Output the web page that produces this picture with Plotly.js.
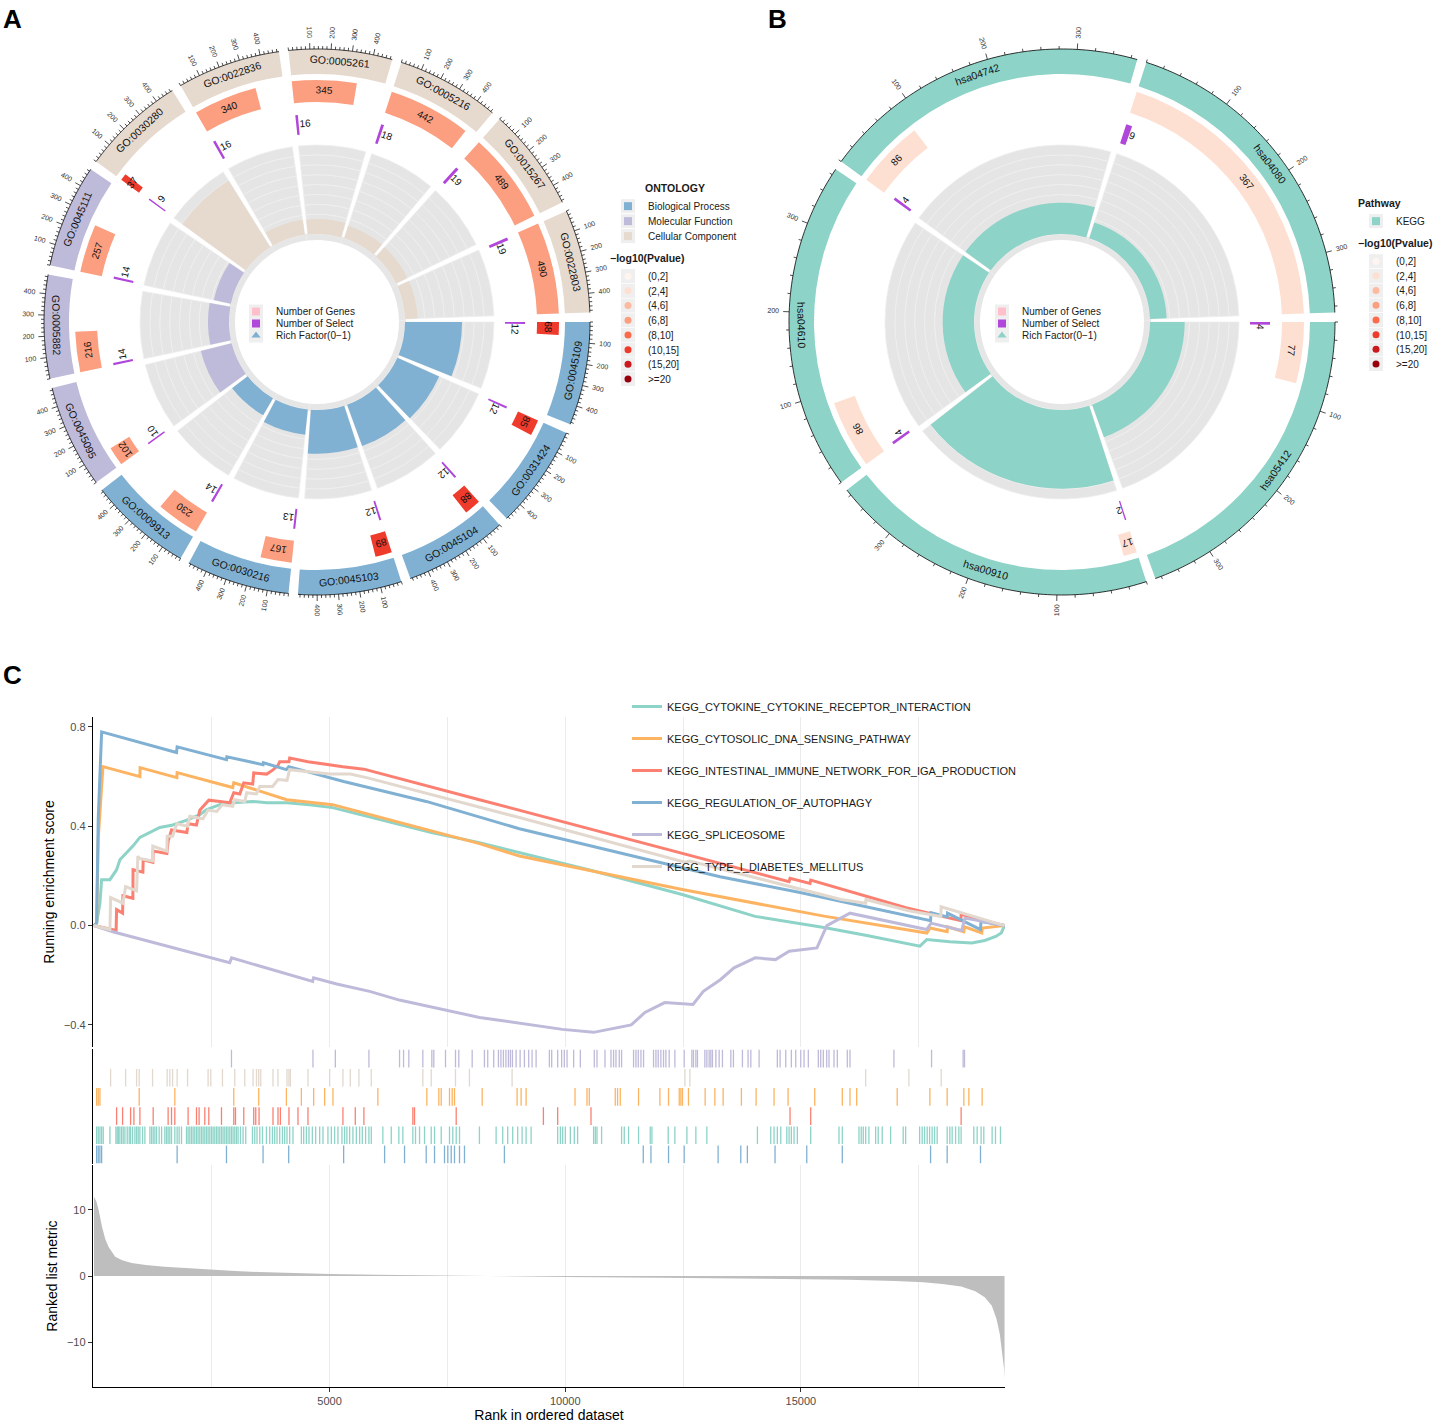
<!DOCTYPE html>
<html>
<head>
<meta charset="utf-8">
<script src="https://cdn.plot.ly/plotly-3.0.1.min.js"></script>
<style>html,body{margin:0;padding:0;background:#fff}#chart{width:1441px;height:1424px}</style>
</head>
<body>
<div id="chart"></div>
<script>
// ================= DATA =================
// Panel A : GO terms (clockwise from 3 o'clock)
const goTerms = ['GO:0045109','GO:0031424','GO:0045104','GO:0045103','GO:0030216','GO:0009913','GO:0045095','GO:0005882','GO:0045111','GO:0030280','GO:0022836','GO:0005261','GO:0005216','GO:0015267','GO:0022803'];
const goOntology = ['BP','BP','BP','BP','BP','BP','MF','MF','MF','CC','CC','CC','CC','CC','CC'];
const goGenes = [68,85,88,89,167,230,102,216,257,37,340,345,442,489,490];
const goSelect = [12,12,12,12,13,14,10,14,14,9,16,16,18,19,19];
const goRichFactor = [0.176,0.141,0.136,0.135,0.078,0.061,0.098,0.065,0.054,0.243,0.047,0.046,0.041,0.039,0.039];
const goPvalueBin = ['(10,15]','(10,15]','(10,15]','(10,15]','(6,8]','(6,8]','(6,8]','(6,8]','(6,8]','(10,15]','(6,8]','(6,8]','(6,8]','(6,8]','(6,8]'];
const ontologyKeys = ['BP','MF','CC'];
const ontologyNames = ['Biological Process','Molecular Function','Cellular Component'];

// Panel B : KEGG pathways
const keggTerms = ['hsa05412','hsa00910','hsa04610','hsa04742','hsa04080'];
const keggGenes = [77,17,86,86,367];
const keggSelect = [4,2,4,4,9];
const keggRichFactor = [0.052,0.118,0.047,0.047,0.025];
const keggPvalueBin = ['(2,4]','(2,4]','(2,4]','(2,4]','(2,4]'];

// -log10(Pvalue) bins
const pBins = ['(0,2]','(2,4]','(4,6]','(6,8]','(8,10]','(10,15]','(15,20]','>=20'];
const pColors = ['#FFF5F0','#FEE0D2','#FCBBA1','#FC9F80','#FB6A4A','#EF3B2C','#CB181D','#99000D'];
const centerKeys = ['Number of Genes','Number of Select','Rich Factor(0\u22121)'];

// Panel C : GSEA running enrichment scores  [rank, ES]
const setNames = ['KEGG_CYTOKINE_CYTOKINE_RECEPTOR_INTERACTION','KEGG_CYTOSOLIC_DNA_SENSING_PATHWAY','KEGG_INTESTINAL_IMMUNE_NETWORK_FOR_IGA_PRODUCTION','KEGG_REGULATION_OF_AUTOPHAGY','KEGG_SPLICEOSOME','KEGG_TYPE_I_DIABETES_MELLITUS'];
const esCytokine = [[0,0],[57,0.01],[127,0.09],[163,0.185],[339,0.185],[481,0.225],[551,0.265],[657,0.285],[826,0.32],[975,0.355],[1187,0.375],[1399,0.395],[1674,0.405],[1971,0.425],[2246,0.447],[2394,0.467],[2670,0.487],[2945,0.495],[3369,0.50],[3666,0.495],[4090,0.495],[4577,0.487],[5064,0.475],[5785,0.44],[7183,0.374],[8179,0.334],[9027,0.294],[10600,0.22],[12481,0.125],[14028,0.037],[15490,-0.008],[16400,-0.04],[17524,-0.083],[17672,-0.056],[18160,-0.065],[18626,-0.07],[18900,-0.06],[19134,-0.044],[19250,-0.03],[19320,0]];
const esCytosolic = [[0,0],[57,0.01],[91,0.35],[127,0.47],[163,0.6],[191,0.64],[975,0.60],[980,0.636],[1759,0.596],[1765,0.616],[2945,0.556],[2967,0.575],[4090,0.507],[5064,0.487],[8179,0.33],[9027,0.28],[12481,0.145],[15490,0.038],[17672,-0.03],[17736,-0.01],[18103,-0.025],[18110,-0.005],[18457,-0.025],[18470,-0.005],[18838,-0.03],[18850,-0.01],[19320,0]];
const esIntestinal = [[0,0],[470,-0.02],[481,0.064],[608,0.05],[615,0.12],[826,0.11],[830,0.225],[1038,0.215],[1045,0.265],[1250,0.255],[1257,0.3],[1547,0.29],[1574,0.34],[1646,0.385],[1971,0.375],[1998,0.41],[2176,0.405],[2246,0.465],[2437,0.505],[2882,0.495],[2967,0.535],[3094,0.53],[3179,0.575],[3369,0.57],[3390,0.615],[3666,0.61],[3799,0.627],[3905,0.645],[3941,0.66],[4138,0.66],[4153,0.675],[4541,0.66],[5283,0.64],[5545,0.635],[5728,0.63],[8179,0.507],[10595,0.386],[14748,0.177],[14769,0.19],[15193,0.17],[15208,0.183],[17228,0.072],[18393,0.02],[18399,0.045],[19320,0]];
const esAutophagy = [[0,0],[57,0.01],[91,0.43],[127,0.6],[163,0.78],[1752,0.697],[1765,0.72],[2812,0.668],[2820,0.68],[3588,0.648],[3595,0.656],[4083,0.628],[4132,0.64],[5298,0.58],[6167,0.54],[7050,0.50],[7862,0.455],[8179,0.438],[9027,0.39],[11655,0.27],[13286,0.197],[14981,0.133],[17312,0.036],[17751,0.02],[17760,0.052],[18103,0.035],[18110,0.05],[18810,-0.016],[18820,0.016],[19320,0]];
const esSpliceosome = [[0,0],[400,-0.025],[2880,-0.15],[2920,-0.13],[4640,-0.225],[4660,-0.21],[5150,-0.235],[5850,-0.265],[6480,-0.30],[8180,-0.37],[9940,-0.418],[10600,-0.43],[11400,-0.40],[11690,-0.35],[12110,-0.31],[12710,-0.318],[12930,-0.265],[13290,-0.218],[13580,-0.17],[14030,-0.13],[14460,-0.137],[14750,-0.103],[15340,-0.09],[15550,0.0],[16040,0.05],[17670,-0.016],[17760,0.01],[18410,-0.02],[18480,0.03],[19320,0]];
const esDiabetes = [[0,0],[339,-0.016],[354,0.113],[615,0.09],[672,0.157],[905,0.14],[932,0.28],[960,0.27],[1244,0.26],[1250,0.32],[1547,0.30],[1553,0.36],[1668,0.36],[1759,0.41],[1986,0.40],[2034,0.44],[2310,0.43],[2422,0.465],[2606,0.46],[2727,0.487],[2945,0.48],[2988,0.507],[3200,0.50],[3242,0.535],[3448,0.53],[3518,0.56],[3793,0.56],[3905,0.588],[4096,0.585],[4153,0.628],[5001,0.61],[5439,0.61],[5785,0.596],[8179,0.477],[9027,0.435],[12538,0.255],[12644,0.26],[15850,0.105],[16374,0.09],[16380,0.105],[17291,0.06],[17969,0.037],[17976,0.076],[19320,0]];

// Panel C : gene-set hit positions (rank)
const hitsCytokine = [57,91,127,163,197,339,466,494,523,551,587,621,657,706,748,778,820,869,905,939,975,1032,1081,1187,1223,1257,1293,1329,1384,1435,1504,1541,1574,1610,1646,1716,1765,1808,1858,1964,1998,2034,2070,2104,2140,2176,2210,2246,2282,2316,2352,2388,2422,2458,2494,2528,2564,2600,2634,2670,2706,2740,2776,2812,2846,2882,2918,2952,2988,3024,3058,3109,3164,3221,3363,3412,3460,3518,3575,3660,3729,3787,3835,3884,3941,3999,4047,4096,4153,4223,4401,4450,4507,4562,4634,4704,4789,4859,4965,5037,5107,5177,5262,5319,5367,5425,5495,5567,5637,5694,5764,5834,5884,6130,6308,6469,6554,6766,6823,6908,7014,7156,7226,7368,7544,7614,7686,7756,8179,8533,8673,8779,8885,8991,9084,9169,9275,9839,9896,9945,10002,10108,10192,10262,10601,10637,10673,10771,11195,11252,11343,11555,11803,11839,12184,12326,12581,12771,13004,14077,14360,14430,14500,14572,14700,14749,14797,14854,14924,15208,15808,15878,16232,16280,16323,16374,16443,16585,16640,16725,16903,17170,17222,17518,17573,17624,17679,17730,17784,17836,17891,18103,18160,18209,18281,18351,18399,18668,18739,18823,18880,19057,19128,19234];
const hitsCytosolic = [57,91,127,960,1716,2967,3496,4083,4401,4662,4895,5071,6024,7063,7317,7368,7544,7601,7650,8237,8978,9063,9169,10207,10461,10510,11061,11110,11167,11555,12008,12191,12418,12453,12487,12614,12968,13174,13350,13737,14049,14430,14727,15293,15878,16041,16183,17043,17736,18103,18457,18563,18845];
const hitsIntestinal = [481,608,778,848,975,1257,1574,1646,1716,1998,2176,2231,2352,2437,2706,2967,3003,3179,3390,3433,3503,3799,3905,3956,4138,4329,4541,5283,5545,5728,6766,6802,7686,9536,9839,10546,14769,15208,18399];
const hitsAutophagy = [57,91,127,163,1765,2812,3588,4132,5298,6167,6590,7050,7226,7438,7508,7580,7650,7756,7862,8709,11655,11818,12191,12523,13243,13724,13864,14451,15124,15878,17751,18103,18810];
const hitsSpliceosome = [2918,4647,5122,5834,6484,6569,6681,6978,7169,7211,7459,7671,7741,8025,8285,8355,8482,8582,8635,8688,8741,8794,8836,8879,8957,9042,9133,9224,9296,9381,9663,9712,9839,9923,9980,10038,10178,10320,10616,10673,10843,10970,11025,11076,11146,11195,11449,11500,11549,11606,11661,11873,11924,11972,12029,12085,12135,12205,12326,12523,12686,12720,12771,12805,12962,13004,13053,13089,13123,13195,13265,13335,13513,13568,13759,13879,13937,14113,14500,14558,14678,14797,14890,14996,15066,15157,15369,15420,15475,15547,15596,15702,15772,15984,16041,16973,17772,18442,18471];
const hitsDiabetes = [354,672,905,960,1244,1553,1610,1668,1765,1986,2422,2479,2727,2988,3200,3376,3448,3496,3539,3799,3905,4096,4138,4168,4541,5001,5283,5439,5622,5884,6978,7156,7671,7967,8872,12538,12644,16374,17291,17976];

// Panel C : ranked list metric  [rank, value]
const rankedMetric = [[1,12.0],[50,11.3],[100,10.0],[170,7.5],[240,5.6],[311,4.4],[451,2.9],[600,2.4],[800,1.95],[1100,1.65],[1500,1.4],[2000,1.15],[2543,0.9],[3000,0.75],[3500,0.6],[4000,0.48],[5000,0.3],[6000,0.18],[7000,0.08],[7650,0.0],[8500,-0.06],[10000,-0.14],[12000,-0.25],[14000,-0.38],[15000,-0.46],[16000,-0.56],[17000,-0.75],[17600,-0.95],[18000,-1.2],[18400,-1.6],[18700,-2.3],[18900,-3.2],[19050,-4.5],[19150,-6.5],[19220,-8.8],[19270,-11.5],[19310,-14.0],[19320,-15.6]];

// ================= STYLE =================
const W = 1441, H = 1424;
const FONT = 'Liberation Sans, Arial, Helvetica, sans-serif';
const ontologyColors = {BP:'#80B1D3', MF:'#BEBADA', CC:'#E6DACF'};
const KEGG_COLOR = '#8DD3C7';
const SELECT_COLOR = '#B046DA';
const GENES_KEY_COLOR = '#FFC0CB';
const setColors = ['#8DD3C7','#FDB462','#FB8072','#80B1D3','#BEBADA','#E2D8CE'];
const R = {ring0:248, ring1:273, gene0:220, gene1:242, sel0:188, sel1:208, hub0:82, in0:88, in1:177, axis:273};
const px = p => p / W, py = p => 1 - p / H;
const rotations = []; // label orientation jobs applied after drawing

// ================= CIRCLE BUILDER =================
function circleTraces(sub, terms, genes, sel, rf, ringColors, bins, selOffset) {
  const n = terms.length, step = 360 / n, gap = 2, span = step - gap;
  const maxG = Math.max(...genes);
  const k = span / maxG;
  const rfTop = Math.max(...rf) * 1.13;
  const starts = terms.map((_, i) => 90 + i * step);
  const centers = starts.map(s => s + span / 2);
  const geneMid = starts.map((s, i) => s + genes[i] * k / 2);
  const selLab = starts.map((s, i) => s + sel[i] * k + selOffset);
  const same = v => terms.map(() => v);
  const bp = {type:'barpolar', subplot:sub, hoverinfo:'skip', showlegend:false};
  const out = [];
  out.push({...bp, theta:centers, base:same(R.ring0), r:same(R.ring1-R.ring0), width:span, marker:{color:ringColors, line:{width:0}}});
  out.push({...bp, theta:geneMid, base:same(R.gene0), r:same(R.gene1-R.gene0), width:genes.map(g=>g*k), marker:{color:bins.map(b=>pColors[pBins.indexOf(b)]), line:{width:0}}});
  out.push({...bp, theta:starts.map((s,i)=>s+sel[i]*k/2), base:same(R.sel0), r:same(R.sel1-R.sel0), width:sel.map(v=>v*k), marker:{color:SELECT_COLOR, line:{width:0}}});
  out.push({...bp, theta:centers, base:same(R.hub0), r:same(R.in0-R.hub0+1), width:step, marker:{color:'#E6E6E6', line:{width:0}}});
  const layers = 9, lh = (R.in1 - R.in0) / layers;
  const gt = [], gb = [];
  for (let j = 0; j < layers; j++) centers.forEach(c => { gt.push(c); gb.push(R.in0 + j*lh); });
  out.push({...bp, theta:gt, base:gb, r:gt.map(()=>lh), width:span, marker:{color:'#E5E5E5', line:{color:'#EFEFEF', width:0.8}}});
  out.push({...bp, theta:centers, base:same(R.in0), r:rf.map(v=>v/rfTop*(R.in1-R.in0)), width:span, marker:{color:ringColors, line:{width:0}}});
  // axis ticks on outer ring
  const tt=[], tr=[], at=[], ar=[], lt=[], lr=[], ltx=[];
  starts.forEach(s => {
    for (let v = 0; v <= maxG; v += 20) {
      const th = s + v*k, major = v > 0 && v % 100 === 0;
      tt.push(th, th, null); tr.push(R.axis, R.axis + (major ? 6 : 3), null);
      if (major) { lt.push(th); lr.push(R.axis + 16); ltx.push(String(v)); }
    }
    for (let v = 0; v <= maxG; v += 5) { at.push(s + v*k); ar.push(R.axis); }
    at.push(s + maxG*k, null); ar.push(R.axis, null);
  });
  const sp = {type:'scatterpolar', subplot:sub, hoverinfo:'skip', showlegend:false};
  out.push({...sp, mode:'lines', theta:at, r:ar, line:{color:'#000', width:0.8}, connectgaps:false});
  out.push({...sp, mode:'lines', theta:tt, r:tr, line:{color:'#000', width:0.7}, connectgaps:false});
  const u = sub.replace(/[^a-z0-9]/gi, '');
  out.push({...sp, uid:u+'ticklab', mode:'text', theta:lt, r:lr, text:ltx, textfont:{size:7, color:'#333', family:FONT}});
  out.push({...sp, uid:u+'termlab', mode:'text', theta:centers, r:same((R.ring0+R.ring1)/2), text:terms, textfont:{size:10.5, color:'#111', family:FONT}});
  out.push({...sp, uid:u+'genelab', mode:'text', theta:geneMid, r:same((R.gene0+R.gene1)/2), text:genes.map(String), textfont:{size:10, color:'#111', family:FONT}});
  out.push({...sp, uid:u+'sellab', mode:'text', theta:selLab, r:same((R.sel0+R.sel1)/2), text:sel.map(String), textfont:{size:10, color:'#111', family:FONT}});
  rotations.push({uid:u+'ticklab', theta:lt, mode:'radial'});
  rotations.push({uid:u+'termlab', theta:centers, mode:'nice'});
  rotations.push({uid:u+'genelab', theta:geneMid, mode:'tangent'});
  rotations.push({uid:u+'sellab', theta:selLab, mode:'tangent'});
  return out;
}

const traces = [];
traces.push(...circleTraces('polar', goTerms, goGenes, goSelect, goRichFactor, goOntology.map(o=>ontologyColors[o]), goPvalueBin, 1.8));
traces.push(...circleTraces('polar2', keggTerms, keggGenes, keggSelect, keggRichFactor, keggTerms.map(()=>KEGG_COLOR), keggPvalueBin, 1.0));

// ---------- legend-only keys ----------
const dummy = (name, legend, symbol, color, size) => ({type:'scatter', x:[null], y:[null], xaxis:'x', yaxis:'y', mode:'markers', name, legend, hoverinfo:'skip', marker:{symbol, color, size, line:{width:0}}});
ontologyKeys.forEach((key, i) => traces.push(dummy(ontologyNames[i], 'legend2', 'square', ontologyColors[key], 8)));
pBins.forEach((b, i) => traces.push(dummy(b, 'legend3', 'circle', pColors[i], 7)));
traces.push(dummy(centerKeys[0], 'legend4', 'square', GENES_KEY_COLOR, 8));
traces.push(dummy(centerKeys[1], 'legend4', 'square', SELECT_COLOR, 8));
traces.push(dummy(centerKeys[2], 'legend4', 'triangle-up', ontologyColors.BP, 8));
traces.push(dummy('KEGG', 'legend5', 'square', KEGG_COLOR, 8));
pBins.forEach((b, i) => traces.push(dummy(b, 'legend6', 'circle', pColors[i], 7)));
traces.push(dummy(centerKeys[0], 'legend7', 'square', GENES_KEY_COLOR, 8));
traces.push(dummy(centerKeys[1], 'legend7', 'square', SELECT_COLOR, 8));
traces.push(dummy(centerKeys[2], 'legend7', 'triangle-up', KEGG_COLOR, 8));

// ---------- Panel C ----------
const esSets = [esCytokine, esCytosolic, esIntestinal, esAutophagy, esSpliceosome, esDiabetes];
esSets.forEach((pts, i) => traces.push({type:'scatter', mode:'lines', name:setNames[i], legend:'legend', legendgroup:'g'+i,
  x:pts.map(p=>p[0]), y:pts.map(p=>p[1]), xaxis:'x', yaxis:'y', line:{color:setColors[i], width:3}, hoverinfo:'skip'}));

const hitSets = [hitsCytokine, hitsCytosolic, hitsIntestinal, hitsAutophagy, hitsSpliceosome, hitsDiabetes];
const rugRow = [1, 3, 2, 0, 5, 4]; // row index from bottom
hitSets.forEach((hits, i) => {
  const x = [], y = [];
  hits.forEach(h => { x.push(h, h, null); y.push(rugRow[i] + 0.04, rugRow[i] + 0.96, null); });
  traces.push({type:'scatter', mode:'lines', x, y, xaxis:'x2', yaxis:'y2', line:{color:setColors[i], width:1.3}, showlegend:false, hoverinfo:'skip', connectgaps:false});
});
traces.push({type:'scatter', mode:'lines', x:rankedMetric.map(p=>p[0]), y:rankedMetric.map(p=>p[1]), xaxis:'x3', yaxis:'y3', fill:'tozeroy', fillcolor:'#BEBEBE', line:{color:'#BEBEBE', width:0}, showlegend:false, hoverinfo:'skip'});

// ================= LAYOUT =================
const xDom = [px(93), px(1005)];
const xRange = [-20, 19330];
const tickFont = {size:11, color:'#4D4D4D', family:FONT};
const polarCommon = {bgcolor:'rgba(0,0,0,0)', hole:0, barmode:'overlay',
  radialaxis:{range:[0,300], visible:false, showgrid:false},
  angularaxis:{rotation:90, direction:'clockwise', visible:false, showgrid:false, thetaunit:'degrees'}};
const legendBase = {bgcolor:'rgba(0,0,0,0)', xanchor:'left', yanchor:'top', itemclick:false, itemdoubleclick:false, font:{size:10, color:'#1a1a1a', family:FONT}};

const layout = {
  width:W, height:H, margin:{l:0, r:0, t:0, b:0}, paper_bgcolor:'#fff', plot_bgcolor:'rgba(0,0,0,0)',
  font:{family:FONT, color:'#000'}, showlegend:true,
  polar:{...polarCommon, domain:{x:[px(17), px(617)], y:[py(622), py(22)]}},
  polar2:{...polarCommon, domain:{x:[px(762), px(1362)], y:[py(622), py(22)]}},
  xaxis:{domain:xDom, range:xRange, anchor:'y', showticklabels:false, ticks:'', showline:false, zeroline:false,
    showgrid:true, gridcolor:'#EBEBEB', gridwidth:1, tickvals:[2500,5000,7500,10000,12500,15000,17500]},
  yaxis:{domain:[py(1047), py(717)], range:[-0.489, 0.84], anchor:'x', tickvals:[-0.4,0,0.4,0.8], tickformat:'.1f',
    ticks:'outside', ticklen:4, tickcolor:'#333', showline:true, linecolor:'#000', linewidth:1.2, showgrid:false, zeroline:false,
    tickfont:tickFont, title:{text:'Running enrichment score', font:{size:14, color:'#000', family:FONT}, standoff:6}},
  xaxis2:{domain:xDom, range:xRange, anchor:'y2', visible:false},
  yaxis2:{domain:[py(1164), py(1049)], range:[0,6], anchor:'x2', showline:true, linecolor:'#000', linewidth:1.2,
    showticklabels:false, ticks:'', showgrid:false, zeroline:false},
  xaxis3:{domain:xDom, range:xRange, anchor:'y3', tickvals:[5000,10000,15000], tickformat:'d', ticks:'outside', ticklen:4,
    tickcolor:'#333', showline:true, linecolor:'#000', linewidth:1.2, zeroline:false, showgrid:true, gridcolor:'#EBEBEB',
    minor:{tickvals:[2500,7500,12500,17500], showgrid:true, gridcolor:'#EBEBEB', ticks:''},
    tickfont:tickFont, title:{text:'Rank in ordered dataset', font:{size:14, color:'#000', family:FONT}, standoff:2}},
  yaxis3:{domain:[py(1387), py(1165)], range:[-16.8, 16.8], anchor:'x3', tickvals:[-10,0,10], ticks:'outside', ticklen:4,
    tickcolor:'#333', showline:true, linecolor:'#000', linewidth:1.2, showgrid:false, zeroline:false,
    tickfont:tickFont, title:{text:'Ranked list metric', font:{size:14, color:'#000', family:FONT}, standoff:6}},
  legend:{...legendBase, x:px(627), y:py(692), font:{size:11, color:'#1a1a1a', family:FONT}, tracegroupgap:13},
  legend2:{...legendBase, x:px(608), y:py(178), title:{text:'<b>ONTOLOGY</b>', side:'top center', font:{size:10.5, family:FONT}}},
  legend3:{...legendBase, x:px(608), y:py(248), title:{text:'<b>\u2212log10(Pvalue)</b>', side:'top', font:{size:10.5, family:FONT}}},
  legend4:{...legendBase, x:px(236), y:py(297)},
  legend5:{...legendBase, x:px(1356), y:py(193), title:{text:'<b>Pathway</b>', side:'top', font:{size:10.5, family:FONT}}},
  legend6:{...legendBase, x:px(1356), y:py(233), title:{text:'<b>\u2212log10(Pvalue)</b>', side:'top', font:{size:10.5, family:FONT}}},
  legend7:{...legendBase, x:px(982), y:py(297)},
  annotations:[
    {text:'<b>A</b>', xref:'paper', yref:'paper', x:px(1), y:py(2), xanchor:'left', yanchor:'top', showarrow:false, font:{size:26, family:FONT, color:'#000'}},
    {text:'<b>B</b>', xref:'paper', yref:'paper', x:px(766), y:py(2), xanchor:'left', yanchor:'top', showarrow:false, font:{size:26, family:FONT, color:'#000'}},
    {text:'<b>C</b>', xref:'paper', yref:'paper', x:px(1), y:py(658), xanchor:'left', yanchor:'top', showarrow:false, font:{size:26, family:FONT, color:'#000'}}
  ]
};

// ---------- post-draw cosmetics: label orientation & compact legends ----------
function norm180(a) { a = ((a % 360) + 360) % 360; return a > 180 ? a - 360 : a; }
function orientLabels() {
  rotations.forEach(job => {
    const g = document.querySelector('g.trace' + job.uid);
    if (!g) return;
    const texts = g.querySelectorAll('g.textpoint text');
    texts.forEach((t, i) => {
      const th = job.theta[i];
      if (th == null) return;
      let a;
      if (job.mode === 'tangent') a = norm180(th);
      else {
        a = norm180(job.mode === 'radial' ? th - 90 : th);
        if (a > 90) a -= 180; else if (a < -90) a += 180;
      }
      const b = t.getBBox();
      t.setAttribute('transform', 'rotate(' + a + ' ' + (b.x + b.width/2) + ' ' + (b.y + b.height/2) + ')');
    });
  });
}
function compactLegend(id, spacing, keyBg) {
  const lg = document.querySelector('g.' + id);
  if (!lg) return;
  const items = lg.querySelectorAll('g.traces');
  let y0 = null;
  items.forEach((it, i) => {
    const m = /translate\(\s*([-\d.e]+)[ ,]\s*([-\d.e]+)\s*\)/.exec(it.getAttribute('transform') || '');
    if (!m) return;
    if (y0 === null) y0 = parseFloat(m[2]);
    it.setAttribute('transform', 'translate(' + m[1] + ',' + (y0 + i * spacing) + ')');
    if (keyBg) {
      const r = document.createElementNS('http://www.w3.org/2000/svg', 'rect');
      r.setAttribute('x', 13); r.setAttribute('y', -7); r.setAttribute('width', 14); r.setAttribute('height', 14);
      r.setAttribute('fill', '#EFEFEF');
      it.insertBefore(r, it.firstChild);
    }
  });
}

Plotly.newPlot('chart', traces, layout, {displayModeBar:false, staticPlot:true}).then(() => {
  try { orientLabels(); } catch (e) {}
  try {
    compactLegend('legend2', 15, true);
    compactLegend('legend3', 14.7, true);
    compactLegend('legend4', 12, true);
    compactLegend('legend5', 15, true);
    compactLegend('legend6', 14.7, true);
    compactLegend('legend7', 12, true);
  } catch (e) {}
});
</script>
</body>
</html>
